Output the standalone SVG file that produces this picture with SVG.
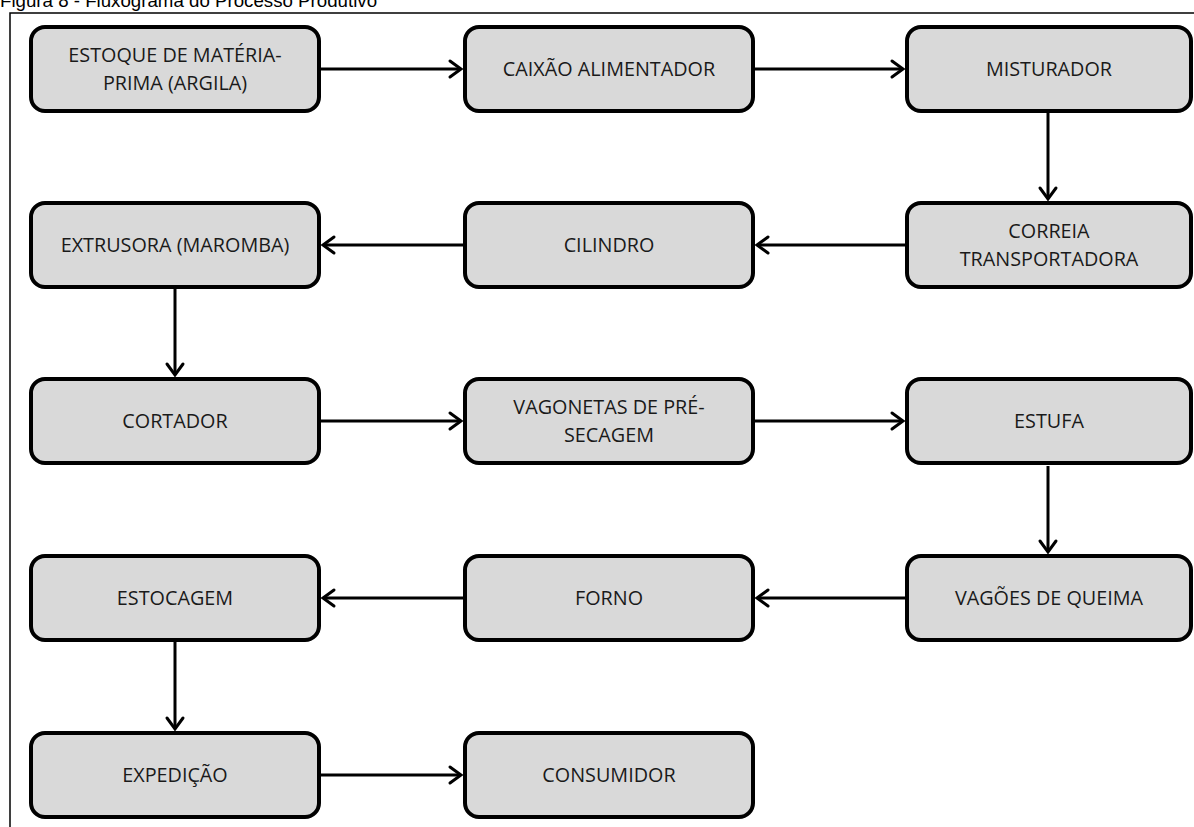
<svg xmlns="http://www.w3.org/2000/svg" width="1194" height="827" viewBox="0 0 1194 827">
<defs>
<style>
.box{fill:#d9d9d9;stroke:#000;stroke-width:4}
.lbl{font-family:"Open Sans","Liberation Sans",sans-serif;font-size:19.8px;fill:#1a1a1a;text-anchor:middle}
.con{stroke:#000;stroke-width:3;fill:none}
.ah{stroke:#000;stroke-width:3;fill:none;stroke-linecap:round;stroke-linejoin:miter}
</style>
</defs>
<rect width="1194" height="827" fill="#fff"/>
<text x="0" y="7" font-family="Liberation Sans, Arial, sans-serif" font-size="18.7" fill="#000">Figura 8 - Fluxograma do Processo Produtivo</text>
<path d="M10 827 V13 H1194" fill="none" stroke="#000" stroke-width="1.5"/>
<g id="connectors">
<path class="con" d="M321 69 H461"/><path class="ah" d="M450 61 L461 69 L450 77"/>
<path class="con" d="M755 69 H903"/><path class="ah" d="M892 61 L903 69 L892 77"/>
<path class="con" d="M1048 113 V199"/><path class="ah" d="M1040 188 L1048 199 L1056 188"/>
<path class="con" d="M905 245 H757"/><path class="ah" d="M768 237 L757 245 L768 253"/>
<path class="con" d="M463 245 H323"/><path class="ah" d="M334 237 L323 245 L334 253"/>
<path class="con" d="M175 289 V375"/><path class="ah" d="M167 364 L175 375 L183 364"/>
<path class="con" d="M321 421 H461"/><path class="ah" d="M450 413 L461 421 L450 429"/>
<path class="con" d="M755 421 H903"/><path class="ah" d="M892 413 L903 421 L892 429"/>
<path class="con" d="M1048 466 V552"/><path class="ah" d="M1040 541 L1048 552 L1056 541"/>
<path class="con" d="M905 598 H757"/><path class="ah" d="M768 590 L757 598 L768 606"/>
<path class="con" d="M463 598 H323"/><path class="ah" d="M334 590 L323 598 L334 606"/>
<path class="con" d="M175 642 V729"/><path class="ah" d="M167 718 L175 729 L183 718"/>
<path class="con" d="M321 775 H461"/><path class="ah" d="M450 767 L461 775 L450 783"/>
</g>
<g id="n1"><rect class="box" x="31" y="27" width="288" height="84" rx="14"/><text class="lbl" x="175" y="62">ESTOQUE DE MATÉRIA-</text><text class="lbl" x="175" y="90">PRIMA (ARGILA)</text></g>
<g id="n2"><rect class="box" x="465" y="27" width="288" height="84" rx="14"/><text class="lbl" x="609" y="76">CAIXÃO ALIMENTADOR</text></g>
<g id="n3"><rect class="box" x="907" y="27" width="284" height="84" rx="14"/><text class="lbl" x="1049" y="76">MISTURADOR</text></g>
<g id="n4"><rect class="box" x="907" y="203" width="284" height="84" rx="14"/><text class="lbl" x="1049" y="238">CORREIA</text><text class="lbl" x="1049" y="266">TRANSPORTADORA</text></g>
<g id="n5"><rect class="box" x="465" y="203" width="288" height="84" rx="14"/><text class="lbl" x="609" y="252">CILINDRO</text></g>
<g id="n6"><rect class="box" x="31" y="203" width="288" height="84" rx="14"/><text class="lbl" x="175" y="252">EXTRUSORA (MAROMBA)</text></g>
<g id="n7"><rect class="box" x="31" y="379" width="288" height="84" rx="14"/><text class="lbl" x="175" y="428">CORTADOR</text></g>
<g id="n8"><rect class="box" x="465" y="379" width="288" height="84" rx="14"/><text class="lbl" x="609" y="414">VAGONETAS DE PRÉ-</text><text class="lbl" x="609" y="442">SECAGEM</text></g>
<g id="n9"><rect class="box" x="907" y="379" width="284" height="84" rx="14"/><text class="lbl" x="1049" y="428">ESTUFA</text></g>
<g id="n10"><rect class="box" x="907" y="556" width="284" height="84" rx="14"/><text class="lbl" x="1049" y="605">VAGÕES DE QUEIMA</text></g>
<g id="n11"><rect class="box" x="465" y="556" width="288" height="84" rx="14"/><text class="lbl" x="609" y="605">FORNO</text></g>
<g id="n12"><rect class="box" x="31" y="556" width="288" height="84" rx="14"/><text class="lbl" x="175" y="605">ESTOCAGEM</text></g>
<g id="n13"><rect class="box" x="31" y="733" width="288" height="84" rx="14"/><text class="lbl" x="175" y="782">EXPEDIÇÃO</text></g>
<g id="n14"><rect class="box" x="465" y="733" width="288" height="84" rx="14"/><text class="lbl" x="609" y="782">CONSUMIDOR</text></g>
</svg>
